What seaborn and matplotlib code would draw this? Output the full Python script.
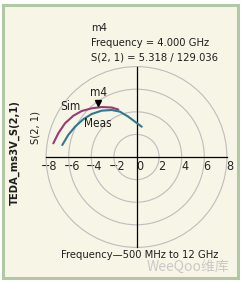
import numpy as np
import pandas as pd
import matplotlib
matplotlib.use("Agg")
import matplotlib.pyplot as plt
import matplotlib.transforms as mtransforms
from matplotlib.patches import Rectangle, Circle
from matplotlib import font_manager
import seaborn as sns

sim_x = [-7.36, -6.92, -6.33, -5.59, -4.85, -3.96, -3.08, -2.19, -1.61]
sim_y = [1.21, 2.10, 2.98, 3.65, 4.07, 4.31, 4.42, 4.38, 4.20]
meas_x = [-6.57, -6.04, -5.44, -4.71, -3.96, -3.08, -2.19, -1.46, -0.73, -0.13, 0.46]
meas_y = [1.06, 1.95, 2.68, 3.34, 3.81, 4.10, 4.16, 4.01, 3.57, 3.12, 2.68]
marker_x, marker_y = -3.38, 4.75
rings = [2, 4, 6, 8]
ticks = [-8, -6, -4, -2, 0, 2, 4, 6, 8]
readout = ["m4", "Frequency = 4.000 GHz", "S(2, 1) = 5.318 / 129.036"]

df = pd.concat([
    pd.DataFrame({"x": sim_x, "y": sim_y, "trace": "Sim"}),
    pd.DataFrame({"x": meas_x, "y": meas_y, "trace": "Meas"}),
])

sns.set_style("white")
fonts = font_manager.fontManager.ttflist
cands = [(f.name, f.stretch) for f in fonts
         if "Narrow" in f.name or "Condensed" in f.name or f.stretch in ("condensed", "semi-condensed")]
if cands:
    fam, stretch = cands[0]
else:
    fam, stretch = "Liberation Sans", "normal"
plt.rcParams["font.family"] = [fam, "DejaVu Sans"]
plt.rcParams["font.stretch"] = stretch if isinstance(stretch, str) else "normal"
plt.rcParams["axes.unicode_minus"] = True
plt.rcParams["text.color"] = "#1e1e1e"

W, H = 241, 282
fig = plt.figure(figsize=(W / 100, H / 100), dpi=100, facecolor="white")

def fx(px):
    return px / W

def fy(py):
    return 1 - py / H

# panel background and frame
fig.patches.append(Rectangle((fx(2.5), fy(278)), fx(235), (276 - 2.5) / H, transform=fig.transFigure,
                             facecolor="#f7f5e6", edgecolor="#b2c8a4", lw=2.2, zorder=-5))

# axes placed so that 0,0 sits at pixel (136.5, 157), 11.3 px per unit
ppu = 11.3
half = 8.4
cx, cy = 136.5, 157
ax = fig.add_axes([fx(cx - half * ppu), fy(cy + half * ppu), 2 * half * ppu / W, 2 * half * ppu / H])
ax.set_xlim(-half, half)
ax.set_ylim(-half, half)
ax.patch.set_alpha(0)

for r in rings:
    ax.add_patch(Circle((0, 0), r, fill=False, edgecolor="#bdbdbd", lw=0.8, zorder=1))

sns.lineplot(data=df, x="x", y="y", hue="trace", palette={"Sim": "#9a3a74", "Meas": "#2f7890"},
             sort=False, lw=1.5, legend=False, ax=ax, zorder=3)

for s in ["top", "right"]:
    ax.spines[s].set_visible(False)
ax.spines["left"].set_position(("data", 0))
ax.spines["bottom"].set_position(("data", 0))
ax.spines["left"].set_bounds(-8, 8)
ax.spines["bottom"].set_bounds(-8, 8)
for s in ["left", "bottom"]:
    ax.spines[s].set_color("black")
    ax.spines[s].set_linewidth(0.9)
ax.set_yticks([])
ax.set_xticks(ticks)
ax.set_xticklabels([f"\u2212{abs(t)}" if t < 0 else str(t) for t in ticks], fontsize=9)
ax.tick_params(axis="x", length=3, width=0.8, pad=1, direction="inout")
off = mtransforms.ScaledTranslation(3 / 100, 0, fig.dpi_scale_trans)
for lab in ax.get_xticklabels():
    lab.set_transform(lab.get_transform() + off)
ax.set_xlabel("")
ax.set_ylabel("")

# marker m4
ax.plot([marker_x], [marker_y], marker="v", color="black", ms=5, zorder=4)
ax.text(marker_x, marker_y + 0.35, "m4", ha="center", va="bottom", fontsize=8.5)
ax.text(-5.88, 4.45, "Sim", ha="center", va="center", fontsize=8.5)
ax.text(-3.38, 2.98, "Meas", ha="center", va="center", fontsize=8.5)

# readout block
for i, s in enumerate(readout):
    fig.text(fx(91), fy(28 + 15 * i), s, ha="left", va="center", fontsize=8)

fig.text(fx(15), fy(153), "TEDA_ms3V_S(2,1)", rotation=90, ha="center", va="center",
         fontsize=8, fontweight="bold")
fig.text(fx(36), fy(127), "S(2, 1)", rotation=90, ha="center", va="center", fontsize=8)
fig.text(fx(140), fy(255), "Frequency\u2014500 MHz to 12 GHz", ha="center", va="center", fontsize=8)
fig.text(fx(188), fy(267), "WeeQoo\u7ef4\u5e93", ha="center", va="center", fontsize=10,
         color="#c9c9c9", style="italic", family=["Noto Sans CJK SC", "DejaVu Sans"])

fig.savefig("out.png", dpi=100, facecolor="white")
